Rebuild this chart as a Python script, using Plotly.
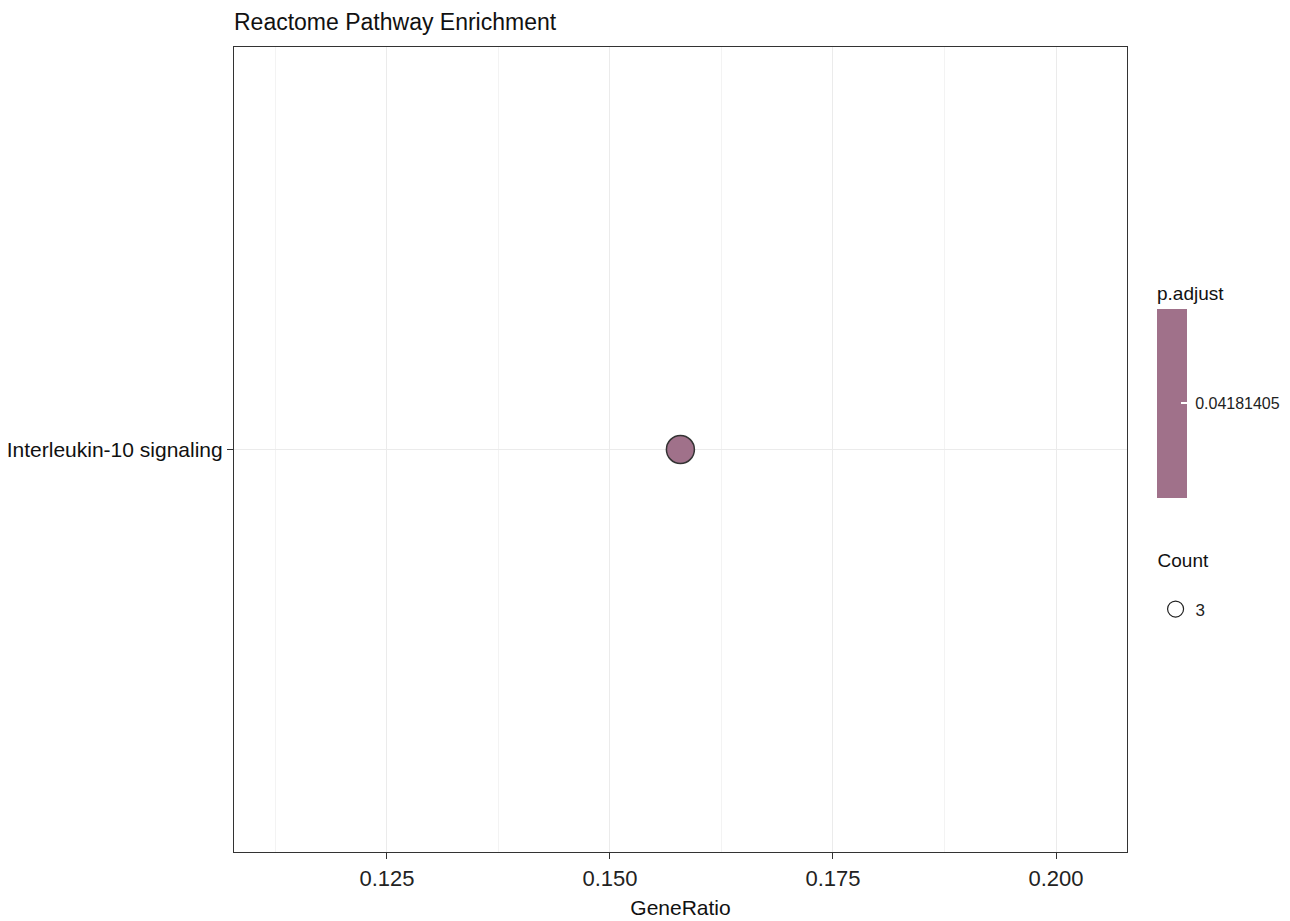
import plotly.graph_objects as go

pathways = ["Interleukin-10 signaling"]
gene_ratio = [3 / 19]
p_adjust = [0.04181405]
counts = [3]

x_ticks = [0.125, 0.150, 0.175, 0.200]
x_tick_text = ["0.125", "0.150", "0.175", "0.200"]

FILL = "#A0718A"
FONT = "Liberation Sans, Arial, sans-serif"

fig = go.Figure()

fig.add_trace(go.Scatter(
    x=gene_ratio, y=pathways, mode="markers", showlegend=False,
    marker=dict(
        size=28, color=p_adjust,
        colorscale=[[0, FILL], [1, FILL]],
        cmin=p_adjust[0] - 1e-6, cmax=p_adjust[0] + 1e-6,
        line=dict(color="#333333", width=1.5),
        colorbar=dict(
            title=dict(text="p.adjust", side="top", font=dict(size=19, color="#111")),
            x=1.0336, xanchor="left", xpad=0,
            y=0.5733, yanchor="middle", ypad=0,
            len=215, lenmode="pixels", thickness=30,
            outlinewidth=0,
            tickvals=p_adjust, ticktext=["\u00a0" + "%.8f" % v for v in p_adjust],
            ticks="inside", ticklen=6, tickcolor="white", tickwidth=1.5,
            tickfont=dict(size=16, color="#222"),
        ),
    ),
))

fig.add_trace(go.Scatter(
    x=[None], y=[None], mode="markers", name=str(counts[0]),
    marker=dict(size=24, color="white", line=dict(color="#222", width=1.2)),
    showlegend=True,
))

fig.update_layout(
    width=1290, height=921,
    margin=dict(l=226, r=171, t=39, b=77, autoexpand=False),
    paper_bgcolor="white", plot_bgcolor="white",
    font=dict(family=FONT, color="#111"),
    title=dict(text="Reactome Pathway Enrichment", x=226 / 1290, xanchor="left",
               y=1 - 14 / 921, yanchor="middle", font=dict(size=23, color="#111")),
    legend=dict(
        title=dict(text="Count<br><span style='font-size:12px'>\u00a0</span>",
                   font=dict(size=19, color="#111")),
        x=1.032, xanchor="left", y=0.385, yanchor="top",
        font=dict(size=17, color="#222"), itemsizing="trace",
        bgcolor="rgba(0,0,0,0)",
    ),
    xaxis=dict(
        range=[0.10785, 0.20796], tickvals=x_ticks, ticktext=x_tick_text,
        ticks="outside", ticklen=6, tickcolor="#333", tickwidth=1,
        tickfont=dict(size=22, color="#222"), automargin=False,
        title=dict(text="GeneRatio", font=dict(size=21, color="#111"), standoff=10),
        showgrid=True, gridcolor="#EBEBEB", gridwidth=1.2,
        minor=dict(tickvals=[0.1125, 0.1375, 0.1625, 0.1875], showgrid=True,
                   gridcolor="#F3F3F3", gridwidth=0.8),
        showline=True, linecolor="#333", linewidth=1.2, mirror=True, zeroline=False,
    ),
    yaxis=dict(
        type="category", range=[-0.6, 0.6], automargin=False,
        ticks="outside", ticklen=6, tickcolor="#333", tickwidth=1,
        tickfont=dict(size=21, color="#111"),
        showgrid=True, gridcolor="#EBEBEB", gridwidth=1.2,
        showline=True, linecolor="#333", linewidth=1.2, mirror=True, zeroline=False,
    ),
)

fig.write_html("out.html")
